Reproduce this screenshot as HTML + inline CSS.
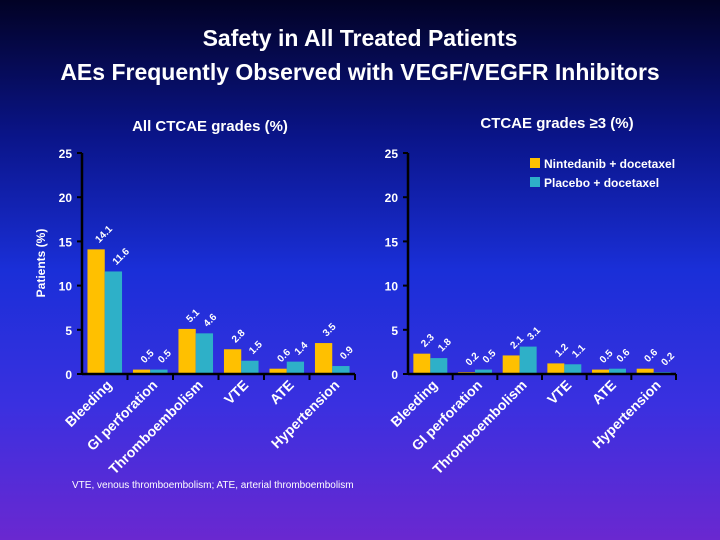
<!DOCTYPE html>
<html><head><meta charset="utf-8"><style>
body{margin:0;width:720px;height:540px;overflow:hidden;background:linear-gradient(180deg,#020225 0%,#0a1488 25%,#1a2fd8 50%,#3a30e0 75%,#6a28d0 100%);font-family:"Liberation Sans",sans-serif;}
svg{display:block}
</style></head><body>
<svg id="c" width="720" height="540">
<text x="360" y="46" fill="#fff" font-size="23" font-weight="bold" text-anchor="middle">Safety in All Treated Patients</text>
<text x="360" y="80" fill="#fff" font-size="23" font-weight="bold" text-anchor="middle">AEs Frequently Observed with VEGF/VEGFR Inhibitors</text>
<text x="210" y="131" fill="#fff" font-size="15" font-weight="bold" text-anchor="middle">All CTCAE grades (%)</text>
<text x="557" y="128" fill="#fff" font-size="15" font-weight="bold" text-anchor="middle">CTCAE grades ≥3 (%)</text>
<text transform="translate(45,263) rotate(-90)" fill="#fff" font-size="12" font-weight="bold" text-anchor="middle">Patients (%)</text>
<rect x="530" y="158" width="10" height="10" fill="#ffc000"/>
<text x="544" y="168" fill="#fff" font-size="12" font-weight="bold">Nintedanib + docetaxel</text>
<rect x="530" y="177" width="10" height="10" fill="#2eb0c8"/>
<text x="544" y="187" fill="#fff" font-size="12" font-weight="bold">Placebo + docetaxel</text>
<text x="72" y="488" fill="#fff" font-size="10">VTE, venous thromboembolism; ATE, arterial thromboembolism</text>
<g id="plots"></g>
</svg>
<script>
const categories=["Bleeding","GI perforation","Thromboembolism","VTE","ATE","Hypertension"];
const allNintedanib=[14.1,0.5,5.1,2.8,0.6,3.5];
const allPlacebo=[11.6,0.5,4.6,1.5,1.4,0.9];
const g3Nintedanib=[2.3,0.2,2.1,1.2,0.5,0.6];
const g3Placebo=[1.8,0.5,3.1,1.1,0.6,0.2];
const yTicks=[0,5,10,15,20,25];
const NS="http://www.w3.org/2000/svg";
const root=document.getElementById('plots');
function mk(t,a,p){const e=document.createElementNS(NS,t);for(const k in a)e.setAttribute(k,a[k]);(p||root).appendChild(e);return e;}
function panel(x0,x1,A,B,name){
  const y0=374,yTop=153,yMax=25;
  const ys=v=>y0-v/yMax*(y0-yTop);
  const gw=(x1-x0)/categories.length;
  const g=mk('g',{});
  
  
  yTicks.forEach(t=>{
    const tx=mk('text',{x:x0-10,y:ys(t)+5,fill:'#fff','font-size':12,'font-weight':'bold','text-anchor':'end'},g);
    tx.textContent=t;
    
    
    mk('line',{x1:x0-5,x2:x0,y1:ys(t),y2:ys(t),stroke:'#000','stroke-width':2},g);
  });
  categories.forEach((c,i)=>{
    const gx=x0+i*gw, bw=gw*0.38, bx=gx+gw*0.12;
    [[A[i],'#ffc000',bx,'nintedanib'],[B[i],'#2eb0c8',bx+bw,'placebo']].forEach(([v,col,x,s])=>{
      const r=mk('rect',{x:x,y:ys(v),width:bw,height:y0-ys(v),fill:col},g);
      
      
      const l=mk('text',{transform:`translate(${x+bw/2+3},${ys(v)-6}) rotate(-45)`,fill:'#fff','font-size':10,'font-weight':'bold'},g);
      l.textContent=v;
      
      
    });
    mk('line',{x1:gx+gw,x2:gx+gw,y1:y0,y2:y0+6,stroke:'#000','stroke-width':2},g);
    const cl=mk('text',{transform:`translate(${gx+gw/2+8},${y0+12}) rotate(-45)`,fill:'#fff','font-size':14,'font-weight':'bold','text-anchor':'end'},g);
    cl.textContent=c;
    
    
  });
  mk('line',{x1:x0,x2:x0,y1:yTop,y2:y0,stroke:'#000','stroke-width':2.5},g);
  mk('line',{x1:x0,x2:x1,y1:y0,y2:y0,stroke:'#000','stroke-width':2.5},g);
}
panel(82,355,allNintedanib,allPlacebo,'all-grades-panel');
panel(408,676,g3Nintedanib,g3Placebo,'grade3-panel');
</script>
</body></html>
